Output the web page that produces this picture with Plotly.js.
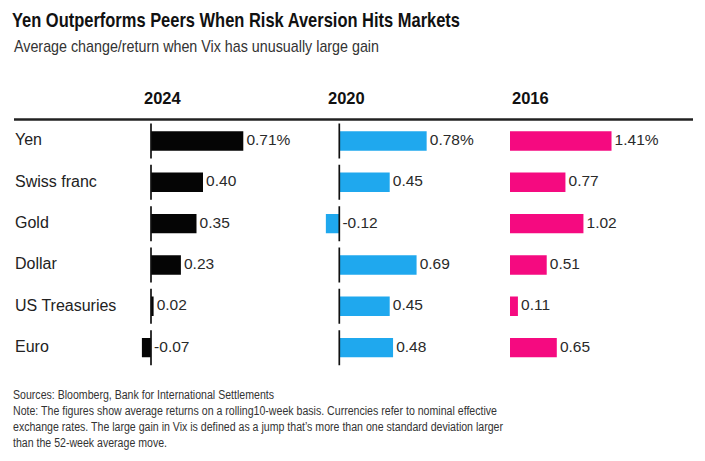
<!DOCTYPE html>
<html><head><meta charset="utf-8">
<script src="https://cdn.plot.ly/plotly-3.0.1.min.js"></script>
<style>html,body{margin:0;padding:0;background:#fff}#chart{width:705px;height:461px}</style>
</head><body><div id="chart"></div>
<script>
const categories = ["Yen", "Swiss franc", "Gold", "Dollar", "US Treasuries", "Euro"];
const years = ["2024", "2020", "2016"];
const values2024 = [0.71, 0.40, 0.35, 0.23, 0.02, -0.07];
const values2020 = [0.78, 0.45, -0.12, 0.69, 0.45, 0.48];
const values2016 = [1.41, 0.77, 1.02, 0.51, 0.11, 0.65];
const colors = ["#050505", "#1fa8ee", "#f50a80"];
const showZeroTick = [true, true, false];
const titleText = "Yen Outperforms Peers When Risk Aversion Hits Markets";
const subtitleText = "Average change/return when Vix has unusually large gain";
const noteLines = [
  "Sources: Bloomberg, Bank for International Settlements",
  "Note: The figures show average returns on a rolling10-week basis. Currencies refer to nominal effective",
  "exchange rates. The large gain in Vix is defined as a jump that’s more than one standard deviation larger",
  "than the 52-week average move."
];

const W = 705, H = 461;
const px = v => v / W;
const py = v => 1 - v / H;

const series = [values2024, values2020, values2016];
const axisIds = ["", "2", "3"];
const domains = [[px(140), px(300)], [px(315), px(480)], [px(500), px(690)]];
const ranges = [[-11/130, 149/130], [-24.3/112, 140.7/112], [-10/72, 180/72]];
const headerX = [px(142), px(326), px(510)];

const fmt = (v, i) => "\u2009" + (v < 0 ? "-" : "") + Math.abs(v).toFixed(2) + (i === 0 ? "%" : "");

const traces = [];
series.forEach((vals, k) => {
  const xa = "x" + axisIds[k];
  traces.push({
    type: "bar", orientation: "h", x: vals, y: categories,
    xaxis: xa, yaxis: "y", width: 0.47,
    marker: {color: colors[k]}, hoverinfo: "skip", showlegend: false
  });
  if (showZeroTick[k]) {
    traces.push({
      type: "scatter", mode: "markers", x: vals.map(() => 0), y: categories,
      xaxis: xa, yaxis: "y",
      marker: {symbol: "line-ns", size: 25, line: {width: 1.7, color: "#111"}},
      hoverinfo: "skip", showlegend: false
    });
  }
  traces.push({
    type: "scatter", mode: "text", x: vals.map(v => Math.max(v, 0)), y: categories,
    xaxis: xa, yaxis: "y",
    text: vals.map((v, i) => fmt(v, i)), textposition: "middle right",
    textfont: {family: "Liberation Sans, Arial, sans-serif", size: 15.5, color: "#2a2a2a"},
    hoverinfo: "skip", showlegend: false, cliponaxis: false
  });
});

const hidden = {showgrid: false, zeroline: false, showticklabels: false, showline: false, ticks: "", fixedrange: true};
const layout = {
  width: W, height: H,
  margin: {l: 0, r: 0, t: 0, b: 0},
  paper_bgcolor: "#fff", plot_bgcolor: "rgba(0,0,0,0)",
  showlegend: false,
  font: {family: "Liberation Sans, Arial, sans-serif", color: "#222"},
  title: {
    text: "<b>" + titleText + "</b>",
    x: px(12), xanchor: "left", xref: "paper",
    y: py(20), yanchor: "middle", yref: "container",
    font: {family: "Liberation Sans, Arial, sans-serif", size: 21, color: "#111"}
  },
  yaxis: Object.assign({}, hidden, {
    type: "category", categoryorder: "array", categoryarray: categories,
    range: [categories.length - 0.5, -0.5], domain: [py(368.3), py(120.3)]
  }),
  annotations: [],
  shapes: [{
    type: "line", xref: "paper", yref: "paper",
    x0: px(14), x1: px(693), y0: py(119.5), y1: py(119.5),
    line: {color: "#222", width: 2.5}
  }]
};
axisIds.forEach((id, k) => {
  layout["xaxis" + id] = Object.assign({}, hidden, {domain: domains[k], range: ranges[k], anchor: "y"});
  layout.annotations.push({
    xref: "paper", yref: "paper", x: headerX[k], y: py(98), xanchor: "left", yanchor: "middle", align: "left",
    text: "<b>" + years[k] + "</b>", showarrow: false,
    font: {family: "Liberation Sans, Arial, sans-serif", size: 16.5, color: "#111"}
  });
});
categories.forEach(c => {
  layout.annotations.push({
    xref: "paper", yref: "y", x: px(13), y: c, xanchor: "left", yanchor: "middle", yshift: 1, align: "left",
    text: c, showarrow: false,
    font: {family: "Liberation Sans, Arial, sans-serif", size: 16, color: "#222"}
  });
});
layout.annotations.push({
  xref: "paper", yref: "paper", x: px(12), y: py(47), xanchor: "left", yanchor: "middle", align: "left",
  text: subtitleText, showarrow: false,
  font: {family: "Liberation Sans, Arial, sans-serif", size: 17, color: "#333"}
});
const noteY = [395, 411, 427, 443];
noteLines.forEach((t, i) => {
  layout.annotations.push({
    xref: "paper", yref: "paper", x: px(11), y: py(noteY[i]), xanchor: "left", yanchor: "middle", align: "left",
    text: t, showarrow: false,
    font: {family: "Liberation Sans, Arial, sans-serif", size: 12.5, color: "#333"}
  });
});

// target rendered widths (px) of the condensed typeface in the reference
const targetWidths = {};
targetWidths[titleText] = 448;
targetWidths[subtitleText] = 365;
[261, 484, 490, 154].forEach((w, i) => { targetWidths[noteLines[i]] = w; });

Plotly.newPlot("chart", traces, layout, {staticPlot: true, displayModeBar: false}).then(gd => {
  gd.querySelectorAll("text").forEach(el => {
    const w = targetWidths[el.textContent];
    if (w) {
      el.setAttribute("textLength", w);
      el.setAttribute("lengthAdjust", "spacingAndGlyphs");
    }
  });
});
</script></body></html>
